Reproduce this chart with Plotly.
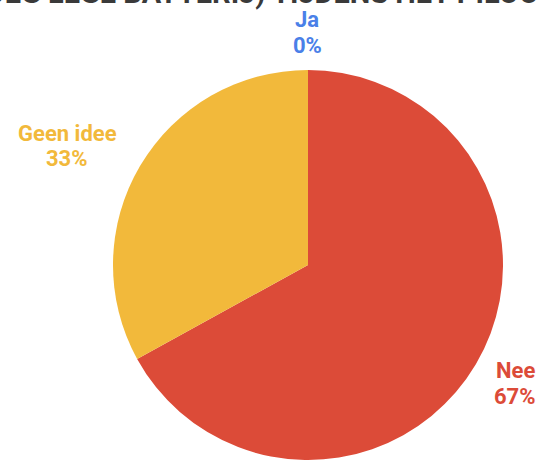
import plotly.graph_objects as go

# Survey answers
labels = ["Ja", "Nee", "Geen idee"]
values = [0, 67, 33]
colors = ["#4a80e8", "#dc4b38", "#f2b93b"]

title_text = "(OF NAGENOEG LEGE BATTERIJ) TIJDENS HET PILOOTPROJECT"

W, H = 539, 461
cx, cy, r = 308, 265, 195

fig = go.Figure(
    go.Pie(
        labels=labels,
        values=values,
        marker=dict(colors=colors, line=dict(width=0)),
        sort=False,
        direction="clockwise",
        rotation=0,
        textinfo="none",
        hoverinfo="label+percent",
        domain=dict(x=[(cx - r) / W, (cx + r) / W], y=[1 - (cy + r) / H, 1 - (cy - r) / H]),
        showlegend=False,
    )
)

total = sum(values)
# outside label positions: (x centre, y of name line, y of percentage line) in pixels
label_pos = {
    "Ja": (307, 19, 45),
    "Geen idee": (67, 133, 158),
    "Nee": (515, 370, 396),
}
for lab, val, col in zip(labels, values, colors):
    x, y1, y2 = label_pos[lab]
    pct = round(100 * val / total)
    for txt, y in ((lab, y1), (f"{pct}%", y2)):
        fig.add_annotation(
            x=x / W, y=1 - y / H, xref="paper", yref="paper",
            text=f"<b>{txt}</b>",
            showarrow=False, xanchor="center", yanchor="middle",
            font=dict(family="Roboto", size=22, color=col),
        )

fig.add_annotation(
    x=(28 - 195) / W, y=1 - 12 / H, xref="paper", yref="paper",
    text=f"<b>{title_text}</b>", showarrow=False,
    xanchor="left", yanchor="bottom",
    font=dict(family="Roboto", size=29, color="#3a3a3a"),
)

fig.update_layout(
    width=W, height=H,
    margin=dict(l=0, r=0, t=0, b=0),
    paper_bgcolor="white", plot_bgcolor="white",
)

fig.write_html("out.html")
